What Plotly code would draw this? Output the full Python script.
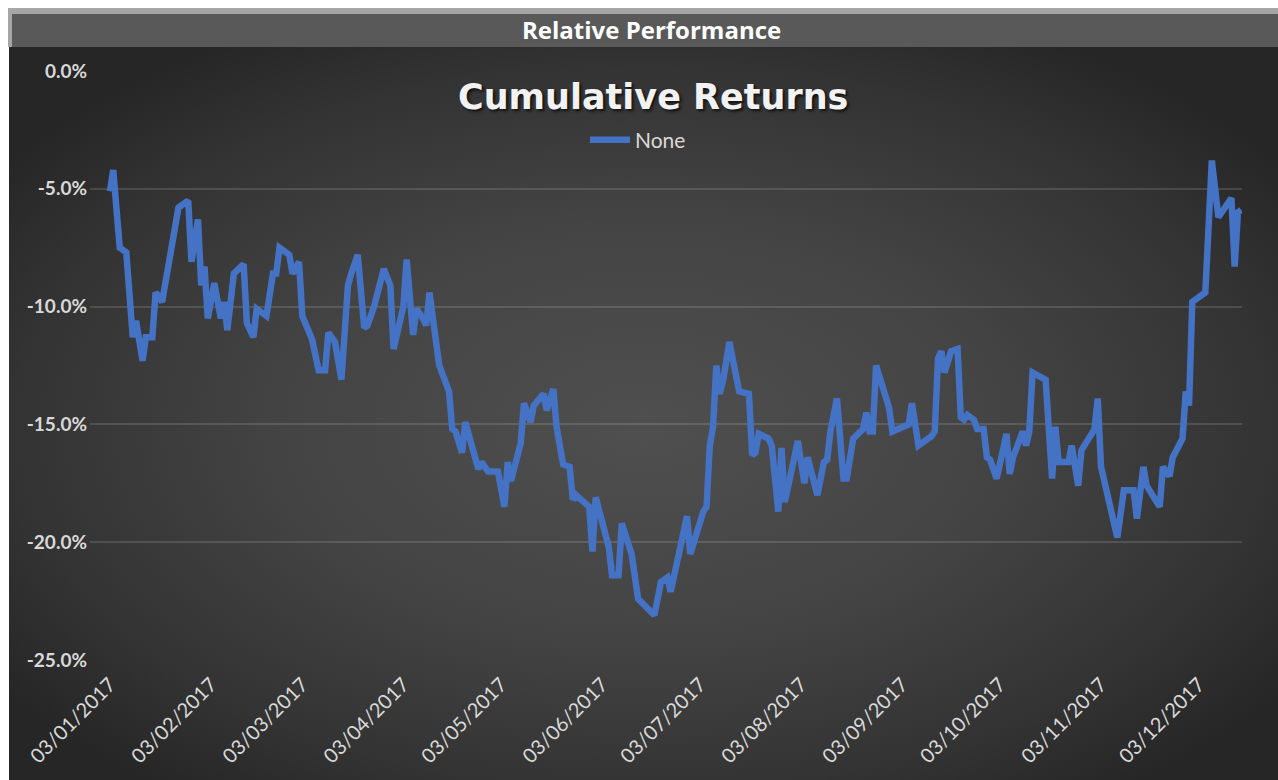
import base64
import plotly.graph_objects as go

# ---------------- data ----------------
dates = [
    "2017-01-03", "2017-01-04", "2017-01-06", "2017-01-08", "2017-01-10", "2017-01-11", "2017-01-13", "2017-01-14",
    "2017-01-16", "2017-01-17", "2017-01-19", "2017-01-20", "2017-01-21", "2017-01-24", "2017-01-27", "2017-01-28",
    "2017-01-30", "2017-01-31", "2017-02-01", "2017-02-02", "2017-02-04", "2017-02-06", "2017-02-07", "2017-02-08",
    "2017-02-10", "2017-02-13", "2017-02-14", "2017-02-16", "2017-02-17", "2017-02-20", "2017-02-22", "2017-02-23",
    "2017-02-24", "2017-02-27", "2017-02-28", "2017-03-02", "2017-03-03", "2017-03-06", "2017-03-08", "2017-03-10",
    "2017-03-11", "2017-03-13", "2017-03-15", "2017-03-17", "2017-03-18", "2017-03-20", "2017-03-22", "2017-03-23",
    "2017-03-25", "2017-03-28", "2017-03-30", "2017-03-31", "2017-04-03", "2017-04-04", "2017-04-06", "2017-04-07",
    "2017-04-09", "2017-04-10", "2017-04-11", "2017-04-13", "2017-04-14", "2017-04-17", "2017-04-18", "2017-04-19",
    "2017-04-21", "2017-04-22", "2017-04-25", "2017-04-26", "2017-04-27", "2017-04-29", "2017-05-02", "2017-05-04",
    "2017-05-05", "2017-05-06", "2017-05-09", "2017-05-10", "2017-05-12", "2017-05-13", "2017-05-16", "2017-05-17",
    "2017-05-19", "2017-05-20", "2017-05-22", "2017-05-24", "2017-05-25", "2017-05-26", "2017-05-30", "2017-05-31",
    "2017-06-01", "2017-06-05", "2017-06-06", "2017-06-08", "2017-06-09", "2017-06-12", "2017-06-14", "2017-06-19",
    "2017-06-21", "2017-06-23", "2017-06-24", "2017-06-26", "2017-06-29", "2017-06-30", "2017-07-04", "2017-07-05",
    "2017-07-06", "2017-07-07", "2017-07-08", "2017-07-09", "2017-07-10", "2017-07-12", "2017-07-14", "2017-07-15",
    "2017-07-18", "2017-07-19", "2017-07-20", "2017-07-21", "2017-07-24", "2017-07-25", "2017-07-27", "2017-07-28",
    "2017-07-29", "2017-08-02", "2017-08-04", "2017-08-05", "2017-08-08", "2017-08-10", "2017-08-11", "2017-08-12",
    "2017-08-14", "2017-08-16", "2017-08-17", "2017-08-19", "2017-08-22", "2017-08-23", "2017-08-24", "2017-08-25",
    "2017-08-26", "2017-08-30", "2017-08-31", "2017-09-05", "2017-09-06", "2017-09-08", "2017-09-12", "2017-09-13",
    "2017-09-14", "2017-09-15", "2017-09-16", "2017-09-18", "2017-09-20", "2017-09-21", "2017-09-22", "2017-09-23",
    "2017-09-25", "2017-09-26", "2017-09-28", "2017-09-29", "2017-09-30", "2017-10-02", "2017-10-05", "2017-10-06",
    "2017-10-07", "2017-10-10", "2017-10-11", "2017-10-12", "2017-10-13", "2017-10-17", "2017-10-19", "2017-10-20",
    "2017-10-21", "2017-10-24", "2017-10-25", "2017-10-27", "2017-10-28", "2017-11-01", "2017-11-02", "2017-11-03",
    "2017-11-08", "2017-11-09", "2017-11-10", "2017-11-13", "2017-11-14", "2017-11-16", "2017-11-17", "2017-11-21",
    "2017-11-22", "2017-11-24", "2017-11-25", "2017-11-28", "2017-11-29", "2017-11-30", "2017-12-01", "2017-12-05",
    "2017-12-06", "2017-12-07", "2017-12-09", "2017-12-13", "2017-12-14", "2017-12-15", "2017-12-16",
]

cumulative_return_pct = [
    -5.1, -4.2, -7.5, -7.7, -11.3, -10.6, -12.3, -11.3, -11.3, -9.4,
    -9.8, -9.0, -8.6, -5.8, -5.5, -8.1, -6.3, -9.1, -8.3, -10.5,
    -9.0, -10.5, -9.8, -11.0, -8.6, -8.2, -10.7, -11.3, -10.1, -10.4,
    -8.6, -8.6, -7.5, -7.8, -8.6, -8.1, -10.4, -11.4, -12.7, -12.7,
    -11.1, -11.5, -13.1, -9.1, -8.6, -7.8, -10.9, -10.8, -10.0, -8.4,
    -9.1, -11.8, -10.0, -8.0, -11.2, -10.1, -10.5, -10.8, -9.4, -11.3,
    -12.5, -13.6, -15.2, -15.3, -16.2, -14.9, -16.4, -16.9, -16.6, -17.0,
    -17.0, -18.5, -16.6, -17.4, -15.8, -14.1, -14.9, -14.2, -13.7, -14.4,
    -13.5, -15.1, -16.7, -16.8, -18.2, -18.0, -18.5, -20.4, -18.1, -20.2,
    -21.4, -21.4, -19.2, -20.5, -22.4, -23.1, -21.7, -21.5, -22.1, -20.8,
    -18.9, -20.5, -18.7, -18.5, -15.9, -15.1, -12.5, -13.7, -13.2, -11.5,
    -12.7, -13.6, -13.7, -16.3, -16.2, -15.4, -15.6, -15.9, -18.7, -16.0,
    -18.3, -15.7, -17.5, -16.4, -18.0, -16.6, -16.5, -15.3, -13.9, -17.3,
    -17.3, -15.6, -15.2, -14.5, -15.3, -15.3, -12.5, -14.3, -15.3, -15.0,
    -14.1, -15.9, -15.5, -15.3, -12.2, -11.9, -12.8, -11.9, -11.8, -14.7,
    -14.8, -14.6, -14.8, -15.2, -15.2, -16.4, -16.5, -17.3, -15.4, -17.1,
    -16.4, -15.3, -15.9, -15.3, -12.8, -13.1, -17.3, -15.1, -16.6, -16.6,
    -15.9, -17.6, -16.1, -15.2, -13.9, -16.8, -19.8, -18.5, -17.8, -17.8,
    -19.0, -16.8, -17.6, -18.5, -16.8, -17.2, -16.4, -15.6, -13.6, -14.2,
    -9.8, -9.4, -6.2, -3.8, -6.2, -5.4, -8.3, -6.0, -5.9,
]

series_name = "None"

tick_dates = [
    "2017-01-03", "2017-02-03", "2017-03-03", "2017-04-03", "2017-05-03", "2017-06-03",
    "2017-07-03", "2017-08-03", "2017-09-03", "2017-10-03", "2017-11-03", "2017-12-03",
]
tick_labels = [
    "03/01/2017", "03/02/2017", "03/03/2017", "03/04/2017", "03/05/2017", "03/06/2017",
    "03/07/2017", "03/08/2017", "03/09/2017", "03/10/2017", "03/11/2017", "03/12/2017",
]
y_tick_vals = [0.0, -0.05, -0.10, -0.15, -0.20, -0.25]
y_tick_labels = ["0.0%", "-5.0%", "-10.0%", "-15.0%", "-20.0%", "-25.0%"]

header_text = "Relative Performance"
chart_title = "Cumulative Returns"

# ---------------- layout constants ----------------
W, H = 1278, 780


def px_x(x):
    return x / W


def px_y(y):
    return 1 - y / H


FONT = "Lato, 'Open Sans', sans-serif"

y_vals = [v / 100.0 for v in cumulative_return_pct]

fig = go.Figure()
fig.add_trace(go.Scatter(
    x=dates, y=y_vals, mode="lines", name=series_name,
    line=dict(color="#4472C4", width=6.5),
    showlegend=True,
))

# radial gradient background via SVG data URI
svg = f"""<svg xmlns='http://www.w3.org/2000/svg' width='{W}' height='{H-47}' viewBox='0 0 100 100' preserveAspectRatio='none'>
<defs><radialGradient id='g' cx='0.5' cy='0.52' r='0.62' fx='0.5' fy='0.52'>
<stop offset='0' stop-color='#4f4f4f'/>
<stop offset='0.45' stop-color='#444444'/>
<stop offset='0.8' stop-color='#333333'/>
<stop offset='1' stop-color='#262626'/>
</radialGradient></defs>
<rect x='0' y='0' width='100' height='100' fill='url(#g)'/>
</svg>"""
svg_uri = "data:image/svg+xml;base64," + base64.b64encode(svg.encode()).decode()

fig.update_layout(
    width=W, height=H,
    margin=dict(l=0, r=0, t=0, b=0, pad=0, autoexpand=False),
    paper_bgcolor="#ffffff",
    plot_bgcolor="rgba(0,0,0,0)",
    images=[dict(
        source=svg_uri, xref="paper", yref="paper",
        x=px_x(9), y=px_y(47), sizex=1 - px_x(9), sizey=px_y(47),
        xanchor="left", yanchor="top", sizing="stretch", layer="below",
    )],
    shapes=[
        dict(type="rect", xref="paper", yref="paper", x0=px_x(8), x1=1, y0=px_y(47), y1=px_y(8),
             fillcolor="#a6a6a6", line=dict(width=0), layer="below"),
        dict(type="rect", xref="paper", yref="paper", x0=px_x(12), x1=1, y0=px_y(47), y1=px_y(14),
             fillcolor="#595959", line=dict(width=0), layer="below"),
    ],
    annotations=[
        dict(text=header_text, xref="paper", yref="paper", x=px_x(651), y=px_y(30),
             xanchor="center", yanchor="middle", showarrow=False,
             font=dict(family="'Open Sans', Lato, sans-serif", size=24, color="#ffffff", weight="bold")),
        dict(text=chart_title, xref="paper", yref="paper", x=px_x(653), y=px_y(97),
             xanchor="center", yanchor="middle", showarrow=False,
             font=dict(family="'DejaVu Sans', sans-serif", size=35, color="#f2f2f2", weight="bold",
                       shadow="2px 2px 3px rgba(0,0,0,0.7)")),
    ],
    legend=dict(
        orientation="h", x=px_x(638), y=px_y(140), xanchor="center", yanchor="middle",
        bgcolor="rgba(0,0,0,0)", font=dict(family=FONT, size=21, color="#d9d9d9"),
        itemwidth=40,
    ),
    xaxis=dict(
        type="date",
        domain=[px_x(90), px_x(1242)],
        range=["2016-12-27 21:00", "2017-12-16 06:00"],
        tickvals=tick_dates, ticktext=tick_labels,
        tickangle=-45,
        tickfont=dict(family=FONT, size=20, color="#d9d9d9"),
        showgrid=False, zeroline=False, showline=False, ticks="",
        ticklabelstandoff=8, automargin=False,
    ),
    yaxis=dict(
        domain=[px_y(660), px_y(71)],
        range=[-0.25, 0.0],
        tickvals=y_tick_vals, ticktext=y_tick_labels,
        tickfont=dict(family=FONT, size=19, color="#d9d9d9", weight="bold"),
        showgrid=True, gridcolor="rgba(255,255,255,0.13)", gridwidth=2,
        zeroline=False, showline=False, ticks="",
        ticklabelstandoff=2, automargin=False,
    ),
)

fig.write_html(
    "out.html",
    config={"displayModeBar": False},
    post_script="document.body.style.margin='0px';document.body.style.padding='0px';",
)
